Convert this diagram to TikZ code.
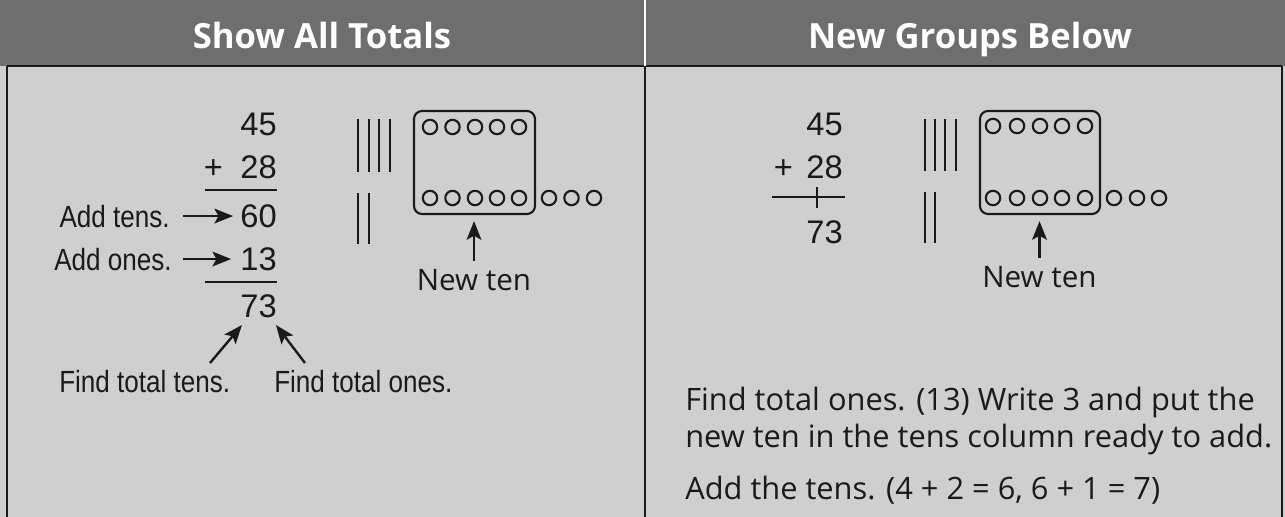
\documentclass[tikz,border=0pt]{standalone}
\usepackage{fontspec}
\setmainfont{Open Sans}
\newfontfamily\annfont{Liberation Sans}
\usepackage{graphicx}
\usetikzlibrary{arrows.meta,calc}
\definecolor{headgray}{HTML}{6E6E6E}
\definecolor{bodygray}{HTML}{CFCFCF}
\definecolor{ink}{HTML}{1A1A1A}
\tikzset{
  titletext/.style={text=white, font=\fontsize{26}{30}\selectfont\bfseries, inner sep=0, anchor=base},
  digit/.style={text=ink, font=\annfont\fontsize{24.5}{28}\selectfont, inner sep=0, anchor=base east},
  plussign/.style={text=ink, font=\annfont\fontsize{24.5}{28}\selectfont, inner sep=0, anchor=base},
  ann/.style={text=ink, font=\annfont\fontsize{23}{27}\selectfont, inner sep=0},
  bodytext/.style={text=ink, font=\fontsize{23.1}{28}\selectfont, inner sep=0, anchor=base west},
  newten/.style={text=ink, font=\fontsize{22.2}{26}\selectfont, inner sep=0, anchor=base},
  tally/.style={draw=ink, line width=2.1pt},
  rulel/.style={draw=ink, line width=1.7pt},
  dot/.style={draw=ink, line width=1.6pt},
  tenbox/.style={draw=ink, line width=1.6pt, rounded corners=6pt, inner sep=0, minimum height=77.25pt},
  arr/.style={draw=ink, line width=1.8pt, -{Stealth[length=14pt,width=11pt,inset=3pt]}},
  border/.style={draw=ink, line width=1.5pt},
}
\begin{document}
\begin{tikzpicture}[x=0.75pt,y=-0.75pt]
\useasboundingbox (0,0) rectangle (1285,517);
% backgrounds
\fill[bodygray] (0,66) rectangle (1285,517);
\fill[headgray] (0,0) rectangle (1285,66);
\draw[ink, line width=0.8pt] (6.5,66) -- (1282,66);
\draw[border] (6.5,66) -- (6.5,517);
\draw[border] (1282,66) -- (1282,517);
\draw[ink, line width=1.8pt] (645,66) -- (645,517);
\draw[white, line width=2pt] (645,0) -- (645,66);

% titles
\node[titletext] (t1) at (322,49) {Show All Totals};
\node[titletext] (t2) at (970,49) {New Groups Below};

% ---------- left panel ----------
\node[digit] (l45) at (277,135) {45};
\node[plussign] (lplus) at (213.5,178) {+};
\node[digit] (l28) at (277,178) {28};
\draw[rulel] (205,190) -- (277,190);
\node[digit] (l60) at (277,227) {60};
\node[digit] (l13) at (277,270) {13};
\draw[rulel] (205,282) -- (277,282);
\node[digit] (l73) at (277,317) {73};

\node[ann, anchor=base east] (addtens) at (170,227) {\scalebox{0.85}[1]{Add tens.}};
\node[ann, anchor=base east] (addones) at (172,270) {\scalebox{0.85}[1]{Add ones.}};
\draw[arr] ($(addtens.east)+(13,0)$) -- ($(addtens.east -| l60.west)+(-7,0)$);
\draw[arr] ($(addones.east)+(11,0)$) -- ($(addones.east -| l13.west)+(-9,0)$);

\node[ann, anchor=base west] (ftens) at (59,392) {\scalebox{0.85}[1]{Find total tens.}};
\node[ann, anchor=base west] (fones) at (274,392) {\scalebox{0.85}[1]{Find total ones.}};
\coordinate (tailA) at (210,363);
\coordinate (headA) at (242,325);
\coordinate (tailB) at (305,363);
\coordinate (headB) at (276,325);
\draw[arr] (tailA) -- (headA);
\draw[arr] (tailB) -- (headB);

% tallies left
\foreach \x in {358,369,379,390} \draw[tally] (\x,119) -- (\x,172);
\foreach \x in {358,369} \draw[tally] (\x,193) -- (\x,244);

% ten box left
\node[tenbox, minimum width=90.75pt] (box1) at (474.5,162.5) {};
\foreach \x in {430,452.5,475,497,519} {
  \draw[dot] (\x,127) circle (7.2);
  \draw[dot] (\x,198) circle (7.2);
}
\foreach \x in {549,571.5,594} \draw[dot] (\x,198) circle (7.2);
\node[newten] (nt1) at (474,290) {New ten};
\draw[arr] ($(nt1.north)+(0,-8)$) -- ($(box1.south -| nt1.north)+(0,6)$);

% ---------- right panel ----------
\node[digit] (r45) at (843,135) {45};
\node[plussign] (rplus) at (783.5,178) {+};
\node[digit] (r28) at (843,178) {28};
\draw[rulel] (772,197) -- (845,197);
\draw[rulel] (817,187) -- (817,208);
\node[digit] (r73) at (843,243) {73};

\foreach \x in {925,935,945,956} \draw[tally] (\x,119) -- (\x,171);
\foreach \x in {925,935} \draw[tally] (\x,192) -- (\x,243);

\node[tenbox, minimum width=90pt] (box2) at (1040,162.5) {};
\foreach \x in {993,1017,1040,1062,1085} {
  \draw[dot] (\x,126) circle (7.2);
  \draw[dot] (\x,198) circle (7.2);
}
\foreach \x in {1114,1137,1159} \draw[dot] (\x,198) circle (7.2);
\node[newten] (nt2) at (1039.5,287) {New ten};
\draw[arr] ($(nt2.north)+(0,-8)$) -- ($(box2.south -| nt2.north)+(0,6)$);

\node[bodytext] (p1) at (685,410) {Find total ones. (13) Write 3 and put the};
\node[bodytext] (p2) at (685,447) {new ten in the tens column ready to add.};
\node[bodytext] (p3) at (685,499) {Add the tens. (4 + 2 = 6, 6 + 1 = 7)};
\end{tikzpicture}
\end{document}
